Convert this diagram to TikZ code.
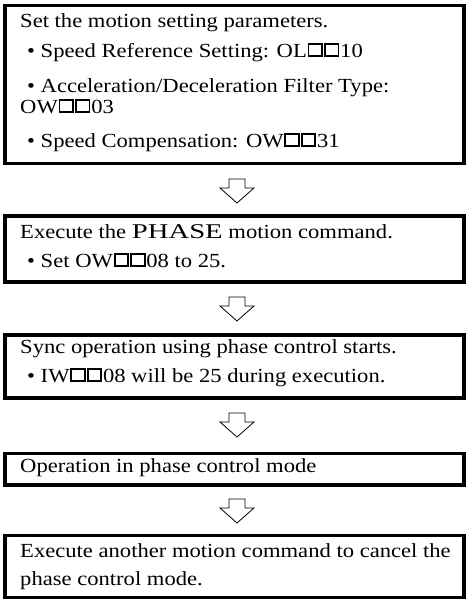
\documentclass[tikz,border=0pt]{standalone}
\usepackage{fontspec}
\setmainfont{Liberation Serif}[FakeStretch=1.13]
\newcommand\sqbox{\kern0.8pt\hbox{\vrule width1.8pt\vbox to 14pt{\hrule height1.8pt width 11.5pt\vfil\hrule height1.8pt}\vrule width1.8pt}\kern0.8pt}
\newcommand\sqq{\sqbox\sqbox}
\newcommand\downarr[1]{\draw[blockarrow] (#1) ++(-8,0) -- ++(16,0) -- ++(0,9) -- ++(9,0) -- ++(-17,15) -- ++(-17,-15) -- ++(9,0) -- cycle;}
\tikzset{
  box/.style={draw, line width=3.5pt, rectangle, inner sep=0pt},
  txt/.style={anchor=base west, inner sep=0pt, font=\fontsize{20}{22}\selectfont},
  blockarrow/.style={draw, line width=0.8pt, fill=white},
}
\begin{document}
\begin{tikzpicture}[x=1pt,y=-1pt]
\useasboundingbox (0,0) rectangle (466,600);
% boxes
\node[box, minimum width=459pt, minimum height=158pt] (b1) at (234.5,84.5) {};
\node[box, minimum width=459pt, minimum height=66pt] (b2) at (234.5,249) {};
\node[box, minimum width=459pt, minimum height=63pt] (b3) at (234.5,366.5) {};
\node[box, minimum width=459pt, minimum height=31.5pt] (b4) at (234.5,469.25) {};
\node[box, minimum width=459pt, minimum height=62pt] (b5) at (234.5,566.5) {};
% texts box 1
\node[txt] (t11) at (20,27) {Set the motion setting parameters.};
\node[txt] (t12) at (27,57) {\textbullet\ Speed Reference Setting: OL\sqq 10};
\node[txt] (t13) at (27,92) {\textbullet\ Acceleration/Deceleration Filter Type:};
\node[txt] (t14) at (20,113) {OW\sqq 03};
\node[txt] (t15) at (27,147) {\textbullet\ Speed Compensation: OW\sqq 31};
% box 2
\node[txt] (t21) at (20,238) {Execute the \scalebox{1.27}[1.05]{PHASE} motion command.};
\node[txt] (t22) at (27,267) {\textbullet\ Set OW\sqq 08 to 25.};
% box 3
\node[txt] (t31) at (20,353) {Sync operation using phase control starts.};
\node[txt] (t32) at (27,382) {\textbullet\ IW\sqq 08 will be 25 during execution.};
% box 4
\node[txt] (t41) at (20,472) {Operation in phase control mode};
% box 5
\node[txt] (t51) at (20,557) {Execute another motion command to cancel the};
\node[txt] (t52) at (20,585) {phase control mode.};
% arrows
\coordinate (a1) at (237,179);
\coordinate (a2) at (237,297);
\coordinate (a3) at (237,413);
\coordinate (a4) at (237,499);
\downarr{a1}
\downarr{a2}
\downarr{a3}
\downarr{a4}
\end{tikzpicture}
\end{document}
